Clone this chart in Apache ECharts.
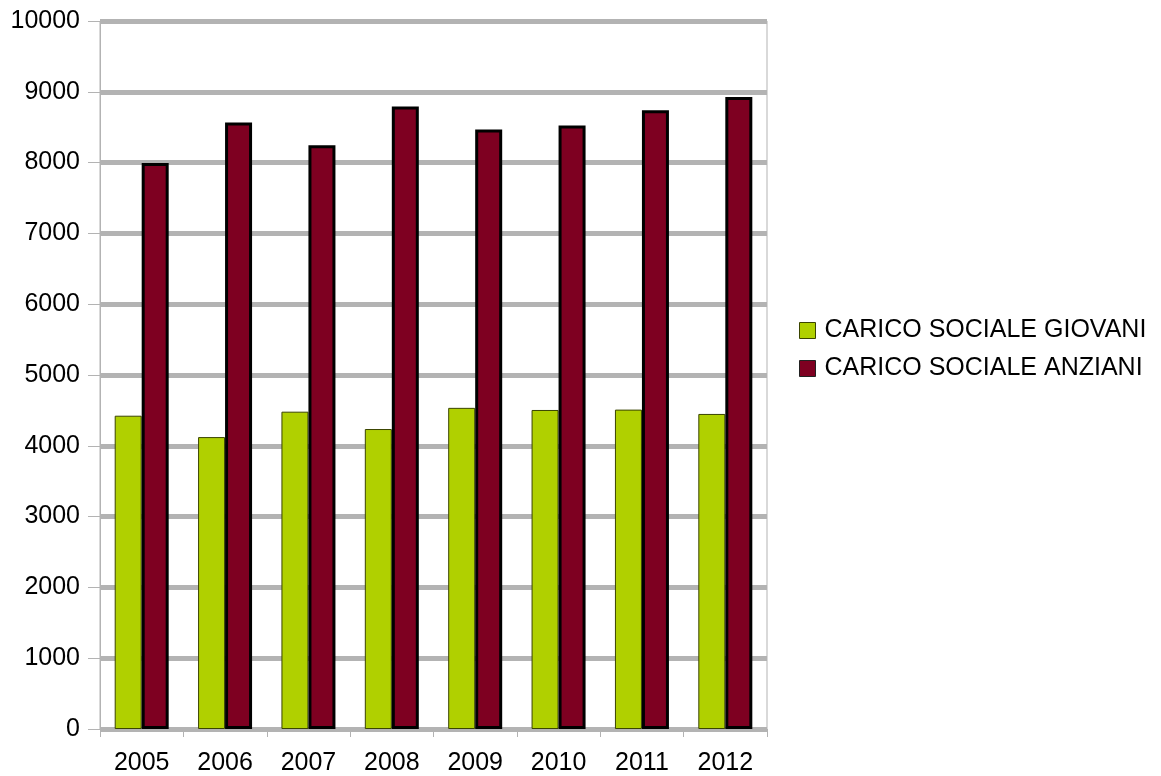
<!DOCTYPE html>
<html><head><meta charset="utf-8">
<script src="https://cdn.jsdelivr.net/npm/echarts@6/dist/echarts.min.js"></script>
<style>html,body{margin:0;padding:0;background:#fff}#c{width:1161px;height:776px}</style>
</head><body><div id="c"></div>
<script>
const categories = ['2005','2006','2007','2008','2009','2010','2011','2012'];
const giovani = [4425, 4123, 4482, 4237, 4536, 4506, 4511, 4450];
const anziani = [7996, 8565, 8246, 8791, 8468, 8525, 8738, 8926];
const seriesNames = ['CARICO SOCIALE GIOVANI', 'CARICO SOCIALE ANZIANI'];

const chart = echarts.init(document.getElementById('c'));
const font = 'Liberation Sans, Arial, sans-serif';
chart.setOption({
  animation: false,
  textStyle: { fontFamily: font },
  grid: { left: 100, right: 394, top: 21, bottom: 47, show: true, borderColor: '#b3b3b3', borderWidth: 1 },
  legend: {
    orient: 'vertical', left: 799, top: 318, padding: 0, itemWidth: 16, itemHeight: 16, itemGap: 13, icon: 'rect',
    textStyle: { fontSize: 25, lineHeight: 25, color: '#000', fontFamily: font, padding: [0, 0, 0, 4] },
    data: [
      { name: seriesNames[0], itemStyle: { color: '#b0d000', borderColor: '#3a4400', borderWidth: 1 } },
      { name: seriesNames[1], itemStyle: { color: '#7e0021', borderColor: '#222', borderWidth: 1 } }
    ]
  },
  xAxis: {
    type: 'category', data: categories,
    axisLine: { lineStyle: { color: '#b3b3b3' } },
    axisTick: { show: true, length: 8, lineStyle: { color: '#b3b3b3' } },
    axisLabel: { fontSize: 25, color: '#000', margin: 22 }
  },
  yAxis: {
    type: 'value', min: 0, max: 10000, interval: 1000,
    axisLine: { show: true, lineStyle: { color: '#b3b3b3' } },
    axisTick: { show: true, length: 12, lineStyle: { color: '#b3b3b3' } },
    axisLabel: { fontSize: 25, color: '#000', margin: 20, formatter: v => String(v) },
    splitLine: { lineStyle: { color: '#b3b3b3', width: 5 } }
  },
  series: [
    { name: seriesNames[0], type: 'bar', data: giovani, barWidth: 27, barGap: '0%',
      itemStyle: { color: '#b0d000', borderColor: '#3a4400', borderWidth: 1 } },
    { name: seriesNames[1], type: 'bar', data: anziani, barWidth: 27,
      itemStyle: { color: '#7e0021', borderColor: '#000', borderWidth: 3 } }
  ]
});
</script></body></html>
